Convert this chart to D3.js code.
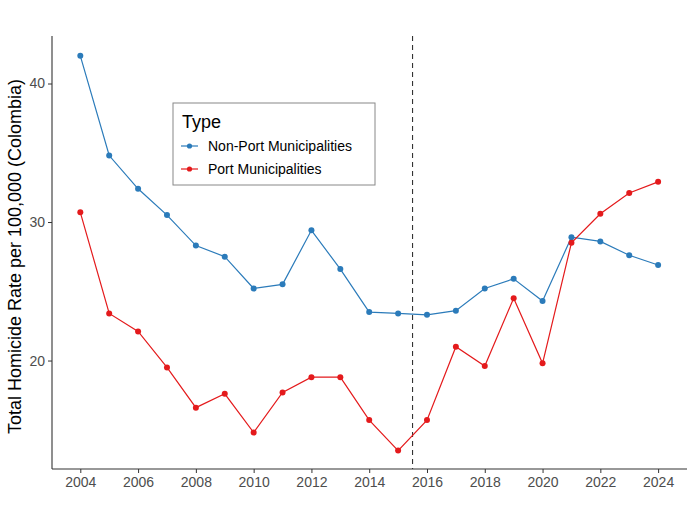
<!DOCTYPE html>
<html>
<head>
<meta charset="utf-8">
<script src="https://cdn.jsdelivr.net/npm/d3@7"></script>
<style>
  body { margin: 0; background: #fff; }
  text { font-family: "Liberation Sans", Arial, sans-serif; }
</style>
</head>
<body>
<div id="chart"></div>
<script>
// data
const years = [2004, 2005, 2006, 2007, 2008, 2009, 2010, 2011, 2012, 2013, 2014,
               2015, 2016, 2017, 2018, 2019, 2020, 2021, 2022, 2023, 2024];
const nonPort = [42.0, 34.8, 32.4, 30.5, 28.3, 27.5, 25.2, 25.5, 29.4, 26.6, 23.5,
                 23.4, 23.3, 23.6, 25.2, 25.9, 24.3, 28.9, 28.6, 27.6, 26.9];
const port = [30.7, 23.4, 22.1, 19.5, 16.6, 17.6, 14.8, 17.7, 18.8, 18.8, 15.7,
              13.5, 15.7, 21.0, 19.6, 24.5, 19.8, 28.5, 30.6, 32.1, 32.9];
const seriesNames = ["Non-Port Municipalities", "Port Municipalities"];
const xTicks = [2004, 2006, 2008, 2010, 2012, 2014, 2016, 2018, 2020, 2022, 2024];
const yTicks = [20, 30, 40];
const cutoffYear = 2015.5;

const width = 694, height = 521;
const margin = { top: 36, right: 7, bottom: 52, left: 52 };

const colors = { "Non-Port Municipalities": "#2b7bba", "Port Municipalities": "#e41a1c" };

const svg = d3.select("#chart")
  .append("svg")
  .attr("width", width)
  .attr("height", height);

const x = d3.scaleLinear()
  .domain([2003.02, 2025])
  .range([margin.left, width - margin.right]);

const y = d3.scaleLinear()
  .domain([12.17, 43.43])
  .range([height - margin.bottom, margin.top]);

// axes
const xAxis = svg.append("g")
  .attr("transform", `translate(0, ${height - margin.bottom})`)
  .call(d3.axisBottom(x).tickValues(xTicks).tickFormat(d3.format("d")).tickSizeOuter(0).tickSize(4).tickPadding(4));

const yAxis = svg.append("g")
  .attr("transform", `translate(${margin.left}, 0)`)
  .call(d3.axisLeft(y).tickValues(yTicks).tickSizeOuter(0).tickSize(4).tickPadding(3));

[xAxis, yAxis].forEach(ax => {
  ax.select(".domain").remove();
  ax.selectAll(".tick line").attr("stroke", "#333");
  ax.selectAll(".tick text").attr("fill", "#4d4d4d").style("font-size", "14px");
});

// axis lines drawn by hand so the corner is clean
svg.append("line")
  .attr("x1", margin.left).attr("x2", margin.left)
  .attr("y1", margin.top).attr("y2", height - margin.bottom)
  .attr("stroke", "#333").attr("stroke-width", 1.1);
svg.append("line")
  .attr("x1", margin.left).attr("x2", width - margin.right)
  .attr("y1", height - margin.bottom).attr("y2", height - margin.bottom)
  .attr("stroke", "#333").attr("stroke-width", 1.1);

// y axis title
svg.append("text")
  .attr("transform", `translate(21, ${(margin.top + height - margin.bottom) / 2 + 4}) rotate(-90)`)
  .attr("text-anchor", "middle")
  .style("font-size", "18px")
  .attr("fill", "#000")
  .text("Total Homicide Rate per 100,000 (Colombia)");

// dashed cutoff line
svg.append("line")
  .attr("x1", x(cutoffYear)).attr("x2", x(cutoffYear))
  .attr("y1", margin.top).attr("y2", height - margin.bottom)
  .attr("stroke", "#333")
  .attr("stroke-width", 1.1)
  .attr("stroke-dasharray", "5,4");

// series
const series = [
  { name: seriesNames[0], values: nonPort },
  { name: seriesNames[1], values: port }
];

const line = d3.line()
  .x((d, i) => x(years[i]))
  .y(d => y(d));

series.forEach(s => {
  svg.append("path")
    .datum(s.values)
    .attr("fill", "none")
    .attr("stroke", colors[s.name])
    .attr("stroke-width", 1.2)
    .attr("d", line);

  svg.selectAll(null)
    .data(s.values)
    .join("circle")
    .attr("cx", (d, i) => x(years[i]))
    .attr("cy", d => y(d))
    .attr("r", 3)
    .attr("fill", colors[s.name]);
});

// legend
const legend = svg.append("g").attr("transform", "translate(173, 103)");
legend.append("rect")
  .attr("width", 202).attr("height", 82)
  .attr("fill", "#fff")
  .attr("stroke", "#888")
  .attr("stroke-width", 1);
legend.append("text")
  .attr("x", 9).attr("y", 25)
  .style("font-size", "18px")
  .text("Type");

seriesNames.forEach((name, i) => {
  const row = legend.append("g").attr("transform", `translate(0, ${43 + i * 23})`);
  row.append("line")
    .attr("x1", 8).attr("x2", 25)
    .attr("stroke", colors[name]).attr("stroke-width", 1.2);
  row.append("circle")
    .attr("cx", 16.5).attr("r", 2.6)
    .attr("fill", colors[name]);
  row.append("text")
    .attr("x", 35).attr("y", 5)
    .style("font-size", "14px")
    .text(name);
});
</script>
</body>
</html>
